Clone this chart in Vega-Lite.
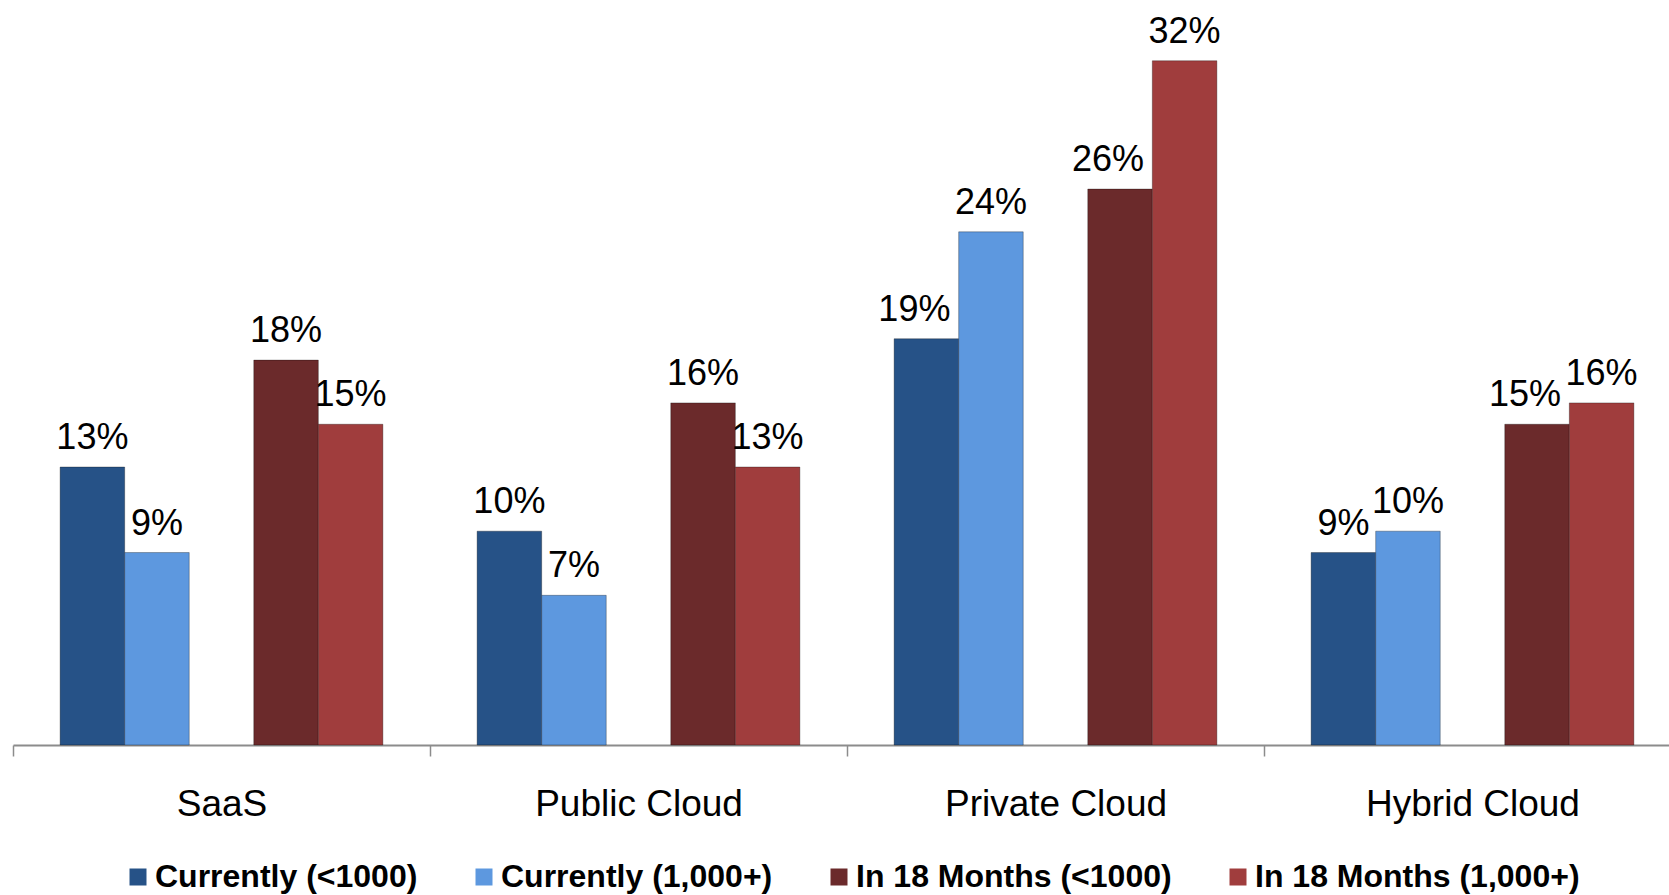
{
  "$schema": "https://vega.github.io/schema/vega-lite/v6.json",
  "width": 1656,
  "height": 727,
  "autosize": {"type": "none"},
  "padding": {"left": 13, "top": 18, "right": 0, "bottom": 150},
  "background": "white",
  "config": {
    "view": {"stroke": null},
    "font": "Liberation Sans"
  },
  "data": {
    "values": [
      {"category": "SaaS", "series": "Currently (<1000)", "value": 0.13},
      {"category": "SaaS", "series": "Currently (1,000+)", "value": 0.09},
      {"category": "SaaS", "series": "In 18 Months (<1000)", "value": 0.18},
      {"category": "SaaS", "series": "In 18 Months (1,000+)", "value": 0.15},
      {"category": "Public Cloud", "series": "Currently (<1000)", "value": 0.10},
      {"category": "Public Cloud", "series": "Currently (1,000+)", "value": 0.07},
      {"category": "Public Cloud", "series": "In 18 Months (<1000)", "value": 0.16},
      {"category": "Public Cloud", "series": "In 18 Months (1,000+)", "value": 0.13},
      {"category": "Private Cloud", "series": "Currently (<1000)", "value": 0.19},
      {"category": "Private Cloud", "series": "Currently (1,000+)", "value": 0.24},
      {"category": "Private Cloud", "series": "In 18 Months (<1000)", "value": 0.26},
      {"category": "Private Cloud", "series": "In 18 Months (1,000+)", "value": 0.32},
      {"category": "Hybrid Cloud", "series": "Currently (<1000)", "value": 0.09},
      {"category": "Hybrid Cloud", "series": "Currently (1,000+)", "value": 0.10},
      {"category": "Hybrid Cloud", "series": "In 18 Months (<1000)", "value": 0.15},
      {"category": "Hybrid Cloud", "series": "In 18 Months (1,000+)", "value": 0.16}
    ]
  },
  "encoding": {
    "x": {
      "field": "category",
      "type": "nominal",
      "sort": ["SaaS", "Public Cloud", "Private Cloud", "Hybrid Cloud"],
      "scale": {"range": [0, 1668], "paddingInner": 0, "paddingOuter": 0},
      "axis": {
        "title": null,
        "labelAngle": 0,
        "labelFont": "Liberation Sans",
        "labelFontSize": 37,
        "labelColor": "#000000",
        "labelBaseline": "alphabetic",
        "labelPadding": 59,
        "labelLimit": 500,
        "tickSize": 11,
        "tickBand": "extent",
        "tickColor": "#8c8c8c",
        "tickWidth": 1.5,
        "domainColor": "#8c8c8c",
        "domainWidth": 2,
        "grid": false
      }
    },
    "xOffset": {
      "field": "series",
      "type": "nominal",
      "scale": {
        "domain": ["Currently (<1000)", "Currently (1,000+)", "gap", "In 18 Months (<1000)", "In 18 Months (1,000+)"],
        "paddingInner": 0,
        "paddingOuter": 0.73
      }
    },
    "y": {
      "field": "value",
      "type": "quantitative",
      "scale": {"domain": [0, 0.34], "nice": false, "zero": true},
      "axis": null
    }
  },
  "layer": [
    {
      "mark": {"type": "bar", "stroke": "rgba(0,0,0,0.3)", "strokeWidth": 1},
      "encoding": {
        "color": {
          "field": "series",
          "type": "nominal",
          "scale": {
            "domain": ["Currently (<1000)", "Currently (1,000+)", "In 18 Months (<1000)", "In 18 Months (1,000+)"],
            "range": ["#265287", "#5d98df", "#6b2a2b", "#a03d3d"]
          },
          "legend": {
            "title": null,
            "orient": "none",
            "legendX": 109,
            "legendY": 843,
            "direction": "horizontal",
            "symbolType": "square",
            "symbolSize": 289,
            "symbolStrokeWidth": 0,
            "labelFont": "Liberation Sans",
            "labelFontSize": 32,
            "labelFontWeight": "bold",
            "labelColor": "#000000",
            "labelOffset": 1,
            "columnPadding": 50,
            "padding": 0,
            "labelLimit": 600
          }
        }
      }
    },
    {
      "transform": [
        {"filter": "!((datum.category === 'Private Cloud' && (datum.series === 'Currently (<1000)' || datum.series === 'In 18 Months (<1000)')) || (datum.category === 'Hybrid Cloud' && datum.series === 'In 18 Months (<1000)'))"}
      ],
      "mark": {"type": "text", "baseline": "alphabetic", "dy": -18, "fontSize": 36, "font": "Liberation Sans", "color": "#000000"},
      "encoding": {
        "text": {"field": "value", "type": "quantitative", "format": ".0%"}
      }
    },
    {
      "transform": [
        {"filter": "(datum.category === 'Private Cloud' && (datum.series === 'Currently (<1000)' || datum.series === 'In 18 Months (<1000)')) || (datum.category === 'Hybrid Cloud' && datum.series === 'In 18 Months (<1000)')"}
      ],
      "mark": {"type": "text", "baseline": "alphabetic", "dy": -18, "dx": -12, "fontSize": 36, "font": "Liberation Sans", "color": "#000000"},
      "encoding": {
        "text": {"field": "value", "type": "quantitative", "format": ".0%"}
      }
    }
  ]
}
